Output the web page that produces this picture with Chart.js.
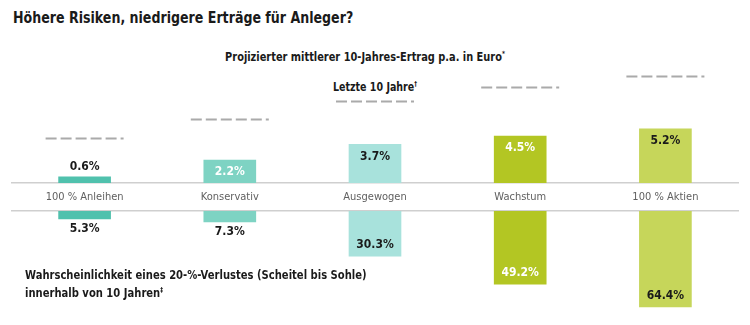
<!DOCTYPE html>
<html lang="de">
<head>
<meta charset="utf-8">
<script src="https://cdn.jsdelivr.net/npm/chart.js@4.4.1/dist/chart.umd.min.js"></script>
<style>
  body { margin: 0; background: #fff; font-family: "DejaVu Sans Condensed", "DejaVu Sans", sans-serif; color: #1a1a1a; }
  #wrap { position: relative; width: 750px; height: 325px; overflow: hidden; }
  .txt { position: absolute; font-weight: bold; white-space: nowrap; }
  #titel { left: 13px; top: 8px; font-size: 16.5px; transform: scaleX(0.85); transform-origin: left center; }
  #unter { left: 0; width: 730px; text-align: center; top: 50px; font-size: 12px; transform: scaleX(0.91); transform-origin: 365px center; }
  #letzte { left: 0; width: 750px; text-align: center; top: 80px; font-size: 12px; transform: scaleX(0.88); transform-origin: 375px center; }
  #fuss { left: 25px; top: 266px; font-size: 12.5px; line-height: 18px; transform: scaleX(0.89); transform-origin: left center; }
  sup { font-size: 7px; vertical-align: 5px; line-height: 0; }
  #oben { position: absolute; left: 0; top: 63px; }
  #unten { position: absolute; left: 0; top: 209px; }
</style>
</head>
<body>
<div id="wrap">
  <div class="txt" id="titel">Höhere Risiken, niedrigere Erträge für Anleger?</div>
  <div class="txt" id="unter">Projizierter mittlerer 10-Jahres-Ertrag p.a. in Euro<sup>*</sup></div>
  <div class="txt" id="letzte">Letzte 10 Jahre<sup>†</sup></div>
  <canvas id="oben" width="750" height="148"></canvas>
  <canvas id="unten" width="750" height="104"></canvas>
  <div class="txt" id="fuss">Wahrscheinlichkeit eines 20-%-Verlustes (Scheitel bis Sohle)<br>innerhalb von 10 Jahren<sup>‡</sup></div>
</div>
<script>
// Daten
const kategorien = ['100 % Anleihen', 'Konservativ', 'Ausgewogen', 'Wachstum', '100 % Aktien'];
const ertrag = [0.6, 2.2, 3.7, 4.5, 5.2];          // projizierter Ertrag p.a. in %
const letzte10 = [4.3, 6.1, 7.9, 9.2, 10.3];       // Ertrag der letzten 10 Jahre in %
const verlust = [5.3, 7.3, 30.3, 49.2, 64.4];      // Wahrscheinlichkeit 20-%-Verlust in %

// Farben pro Portfolio
const farben = ['#50c1ad', '#7ed3c3', '#a8e2dc', '#b3c623', '#c6d65a'];
const textFarben = ['#1a1a1a', '#ffffff', '#1a1a1a', '#ffffff', '#1a1a1a'];
const linienFarbe = '#cfcfcf';
const schrift = '"DejaVu Sans Condensed", "DejaVu Sans", sans-serif';
const labelFont = 'bold 12px ' + schrift;

// Prozentwerte an die Balken schreiben
function werteLabels(nachUnten) {
    return {
        id: 'werteLabels',
        afterDatasetsDraw(chart) {
            const ctx = chart.ctx;
            const meta = chart.getDatasetMeta(0);
            const werte = chart.data.datasets[0].data;
            ctx.save();
            ctx.font = labelFont;
            ctx.textAlign = 'center';
            ctx.textBaseline = 'middle';
            meta.data.forEach((bar, i) => {
                const laenge = Math.abs(bar.y - bar.base);
                const text = werte[i].toFixed(1) + '%';
                let y;
                if (!nachUnten) {
                    if (laenge > 15) { y = bar.y + 12; ctx.fillStyle = textFarben[i]; }
                    else { y = bar.y - 10; ctx.fillStyle = '#1a1a1a'; }
                } else {
                    if (laenge > 30) { y = bar.y - 11; ctx.fillStyle = textFarben[i]; }
                    else { y = bar.y + 10; ctx.fillStyle = '#1a1a1a'; }
                }
                ctx.fillText(text, bar.x, y);
            });
            ctx.restore();
        }
    };
}

// gestrichelte Linien für die letzten 10 Jahre
const letzteLinien = {
    id: 'letzteLinien',
    afterDatasetsDraw(chart) {
        const ctx = chart.ctx;
        const xs = chart.scales.x;
        const ys = chart.scales.y;
        ctx.save();
        ctx.strokeStyle = '#aaaaaa';
        ctx.lineWidth = 2;
        ctx.setLineDash([11, 4]);
        letzte10.forEach((v, i) => {
            const x = xs.getPixelForValue(i);
            const y = Math.round(ys.getPixelForValue(v)) + 0.5;
            ctx.beginPath();
            ctx.moveTo(x - 39, y);
            ctx.lineTo(x + 39, y);
            ctx.stroke();
        });
        ctx.restore();
    }
};

// oberer Teil: Erträge
new Chart(document.getElementById('oben'), {
    type: 'bar',
    data: {
        labels: kategorien,
        datasets: [{ data: ertrag, backgroundColor: farben, barThickness: 52 }]
    },
    options: {
        responsive: false,
        animation: false,
        layout: { padding: { left: 12, right: 12, top: 0, bottom: 0 } },
        plugins: { legend: { display: false }, tooltip: { enabled: false } },
        scales: {
            x: {
                grid: { display: false, drawTicks: false },
                border: { display: true, color: linienFarbe, width: 1.5 },
                ticks: {
                    color: '#606060',
                    padding: 8,
                    font: { family: schrift, size: 11 }
                },
                afterFit: (scale) => { scale.height = 28; }
            },
            y: { display: false, min: 0, max: 11.5 }
        }
    },
    plugins: [werteLabels(false), letzteLinien]
});

// unterer Teil: Verlustwahrscheinlichkeit
new Chart(document.getElementById('unten'), {
    type: 'bar',
    data: {
        labels: kategorien,
        datasets: [{ data: verlust, backgroundColor: farben, barThickness: 52 }]
    },
    options: {
        responsive: false,
        animation: false,
        layout: { padding: { left: 12, right: 12, top: 2, bottom: 0 } },
        plugins: { legend: { display: false }, tooltip: { enabled: false } },
        scales: {
            x: {
                position: 'top',
                grid: { display: false, drawTicks: false },
                border: { display: true, color: linienFarbe, width: 1.5 },
                ticks: { display: false },
                afterFit: (scale) => { scale.height = 0; }
            },
            y: { display: false, reverse: true, min: 0, max: 68.5 }
        }
    },
    plugins: [werteLabels(true)]
});
</script>
</body>
</html>
